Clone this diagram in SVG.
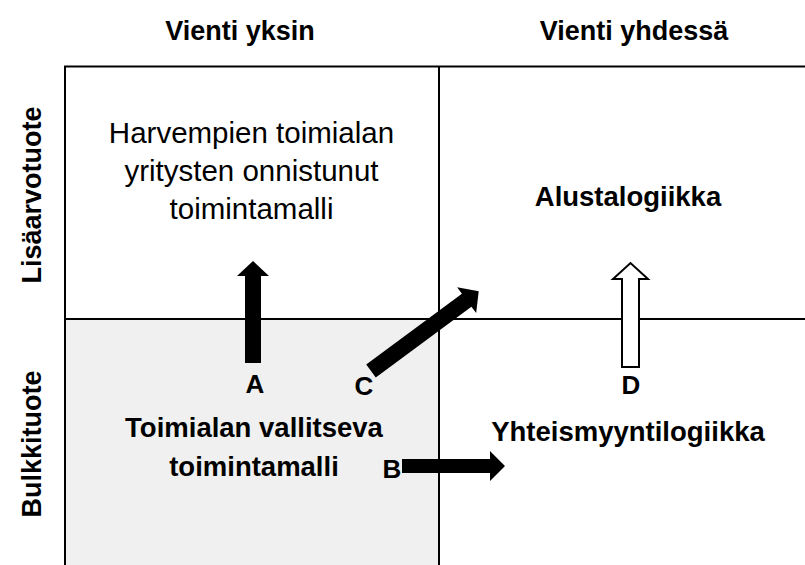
<svg xmlns="http://www.w3.org/2000/svg" width="805" height="565" viewBox="0 0 805 565">
  <style>
    text { font-family: "Liberation Sans", Arial, sans-serif; fill: #000; text-anchor: middle; }
    .head { font-size: 27px; font-weight: bold; }
    .side { font-size: 27px; font-weight: bold; }
    .cell { font-size: 29.5px; }
    .cellb { font-size: 27.5px; font-weight: bold; }
    .lbl { font-size: 26px; font-weight: bold; }
    .grid { stroke: #000; stroke-width: 2; fill: none; }
    .solid { fill: #000; }
    .hollow { fill: #fff; stroke: #000; stroke-width: 2; }
  </style>

  <!-- matrix background and grid -->
  <g id="matrix">
    <rect x="65" y="319" width="374" height="246" fill="#f0f0f0"/>
    <path class="grid" d="M65 565 V66.5 H805 M439 66.5 V565 M65 319 H805"/>
  </g>

  <!-- column and row headers -->
  <g id="headers">
    <text class="head" x="240" y="40">Vienti yksin</text>
    <text class="head" x="634" y="40">Vienti yhdessä</text>
    <text class="side" transform="translate(41 195) rotate(-90)">Lisäarvotuote</text>
    <text class="side" transform="translate(41 444) rotate(-90)">Bulkkituote</text>
  </g>

  <!-- quadrant nodes -->
  <g id="node-top-left">
    <text class="cell" x="251.5" y="143">Harvempien toimialan</text>
    <text class="cell" x="251.5" y="181">yritysten onnistunut</text>
    <text class="cell" x="251.5" y="219">toimintamalli</text>
  </g>
  <g id="node-top-right">
    <text class="cellb" x="628" y="206">Alustalogiikka</text>
  </g>
  <g id="node-bottom-left">
    <text class="cellb" x="254" y="437">Toimialan vallitseva</text>
    <text class="cellb" x="254" y="476">toimintamalli</text>
  </g>
  <g id="node-bottom-right">
    <text class="cellb" x="628" y="441">Yhteismyyntilogiikka</text>
  </g>

  <!-- transition arrows -->
  <g id="connectors">
    <!-- A: up -->
    <polygon class="solid" points="245,363 245,276 237,276 253,261 269,276 261,276 261,363"/>
    <!-- C: diagonal -->
    <polygon class="solid" transform="translate(371 371) rotate(-36.5)" points="0,-8 119,-8 119,-16 134,0 119,16 119,8 0,8"/>
    <!-- B: right -->
    <polygon class="solid" points="402,459 490,459 490,451 505,466 490,481 490,473 402,473"/>
    <!-- D: hollow up -->
    <polygon class="hollow" points="622,367 622,279 613,279 630.5,263 648,279 639,279 639,367"/>
  </g>

  <!-- arrow labels -->
  <g id="labels">
    <text class="lbl" x="255" y="393">A</text>
    <text class="lbl" x="364" y="395">C</text>
    <text class="lbl" x="392" y="478">B</text>
    <text class="lbl" x="631" y="394">D</text>
  </g>
</svg>
